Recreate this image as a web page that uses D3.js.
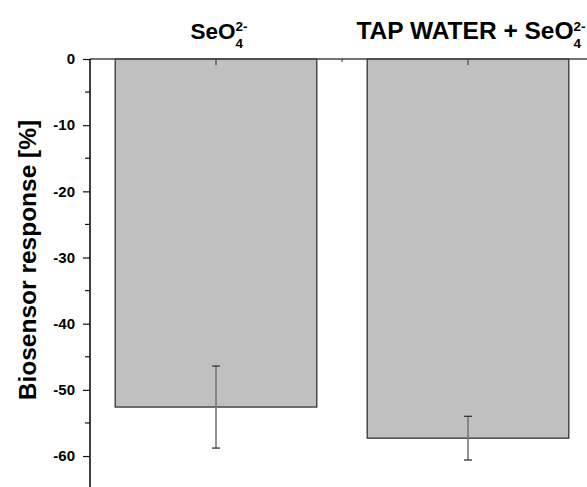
<!DOCTYPE html>
<html>
<head>
<meta charset="utf-8">
<script src="https://cdn.jsdelivr.net/npm/d3@7"></script>
<style>
  body { margin: 0; background: #fff; }
  svg { display: block; font-family: "Liberation Sans", Arial, sans-serif; font-weight: bold; }
</style>
</head>
<body>
<svg width="587" height="487"></svg>
<script>
// data
const categories = ["SeO4", "TAP WATER + SeO4"];
const labelMain = ["SeO", "TAP WATER + SeO"];
const responses = [-52.6, -57.3];
const errors = [6.2, 3.3];
const yTicks = [0, -10, -20, -30, -40, -50, -60];
const yMinorTicks = [-5, -15, -25, -35, -45, -55, -65];

const width = 587;
const height = 487;
const margin = { top: 59, left: 90 };

const svg = d3.select("svg");

const yScale = d3.scaleLinear().domain([0, -65]).range([margin.top, margin.top + 65 * 6.617]);

const xScale = d3
  .scaleBand()
  .domain(categories)
  .range([margin.left, margin.left + 2 * 252])
  .paddingInner(0.2)
  .paddingOuter(0.1);

// bars
svg
  .selectAll("rect.bar")
  .data(responses)
  .enter()
  .append("rect")
  .attr("class", "bar")
  .attr("x", (d, i) => xScale(categories[i]))
  .attr("y", yScale(0))
  .attr("width", xScale.bandwidth())
  .attr("height", (d) => yScale(d) - yScale(0))
  .attr("fill", "#c0c0c0")
  .attr("stroke", "#333")
  .attr("stroke-width", 1.3);

// error bars
const cx = (i) => xScale(categories[i]) + xScale.bandwidth() / 2;
const eb = svg.append("g");
responses.forEach((d, i) => {
  const x = cx(i);
  eb.append("line")
    .attr("x1", x).attr("x2", x)
    .attr("y1", yScale(d + errors[i])).attr("y2", yScale(d - errors[i]))
    .attr("stroke", "#777").attr("stroke-width", 1.6);
  [d + errors[i], d - errors[i]].forEach((v) => {
    eb.append("line")
      .attr("x1", x - 4).attr("x2", x + 4)
      .attr("y1", yScale(v)).attr("y2", yScale(v))
      .attr("stroke", "#333").attr("stroke-width", 1.3);
  });
});

// top axis (ticks inward)
const topTicks = [cx(0), (cx(0) + cx(1)) / 2, cx(1)];
svg.append("line")
  .attr("x1", margin.left).attr("x2", width)
  .attr("y1", yScale(0)).attr("y2", yScale(0))
  .attr("stroke", "#444").attr("stroke-width", 1.5);
topTicks.forEach((x, i) => {
  svg.append("line")
    .attr("x1", x).attr("x2", x)
    .attr("y1", yScale(0)).attr("y2", yScale(0) + (i === 1 ? 3 : 6))
    .attr("stroke", "#444").attr("stroke-width", 1.2);
});

// left axis
const yAxis = d3.axisLeft(yScale).tickValues(yTicks).tickSize(7).tickPadding(8).tickFormat((d) => String(d));
const gy = svg.append("g").attr("transform", `translate(${margin.left},0)`).call(yAxis);
gy.select(".domain").remove();
gy.selectAll(".tick line").attr("stroke", "#111").attr("stroke-width", 1.2);
gy.selectAll(".tick text")
  .attr("font-family", "'Liberation Sans', Arial, sans-serif")
  .attr("font-weight", "bold")
  .attr("font-size", 15)
  .attr("fill", "#000");
gy.append("line")
  .attr("x1", 0).attr("x2", 0)
  .attr("y1", yScale(0)).attr("y2", height)
  .attr("stroke", "#000").attr("stroke-width", 1.5);
gy.selectAll(".minor")
  .data(yMinorTicks)
  .enter()
  .append("line")
  .attr("x1", -5).attr("x2", 0)
  .attr("y1", (d) => yScale(d)).attr("y2", (d) => yScale(d))
  .attr("stroke", "#111").attr("stroke-width", 1.2);

// category labels on top
labelMain.forEach((t, i) => {
  const txt = svg.append("text")
    .attr("x", cx(i) + 3)
    .attr("y", 39)
    .attr("text-anchor", "middle")
    .attr("font-size", i === 0 ? 22.5 : 24.5)
    .attr("fill", "#000");
  txt.append("tspan").text(t);
  txt.append("tspan").attr("font-size", 13.5).attr("dy", 9).text("4");
  txt.append("tspan").attr("font-size", 13.5).attr("dx", -7.5).attr("dy", -17).text("2-");
});

// y title
svg.append("text")
  .attr("transform", "rotate(-90)")
  .attr("x", -260)
  .attr("y", 36)
  .attr("text-anchor", "middle")
  .attr("font-size", 24.5)
  .attr("fill", "#000")
  .text("Biosensor response [%]");
</script>
</body>
</html>
